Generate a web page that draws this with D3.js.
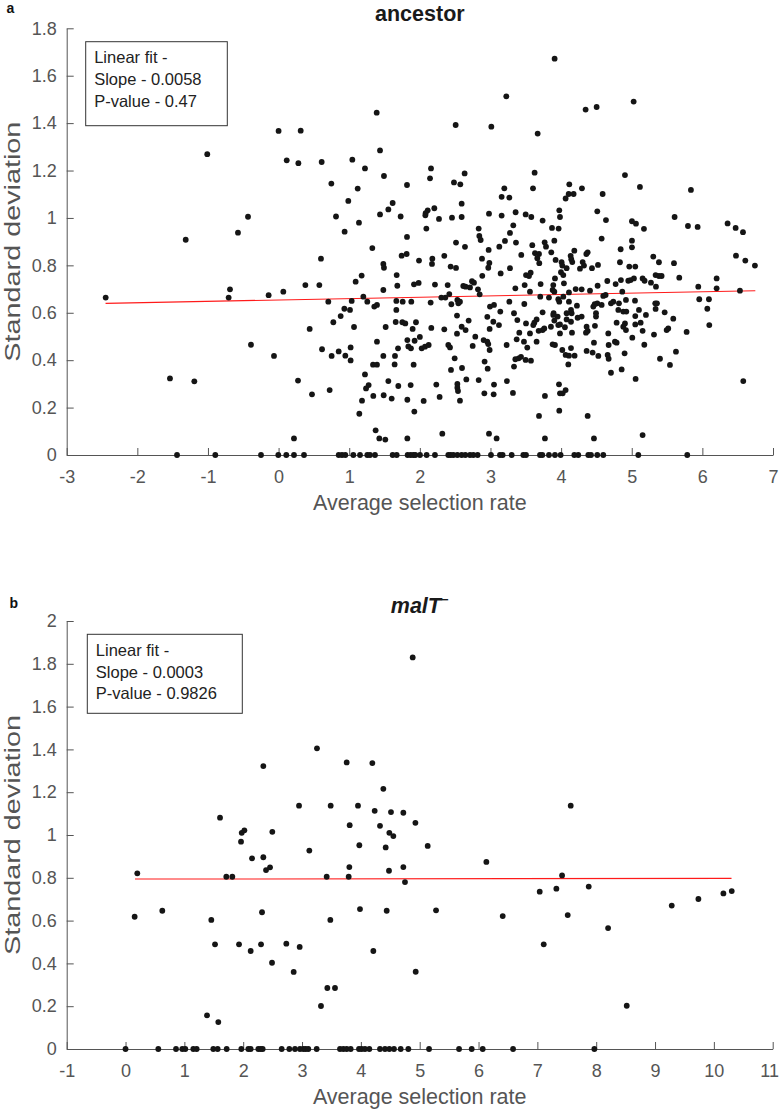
<!DOCTYPE html>
<html><head><meta charset="utf-8">
<script src="https://cdn.jsdelivr.net/npm/d3@7"></script>
<style>
body{margin:0;background:#fff}
svg{display:block}
text{font-family:Arial,"Liberation Sans",Helvetica,sans-serif}
</style>
</head><body>
<svg id="chart" width="780" height="1109"></svg>
<script>
// ---------------- DATA ----------------
const panelTitles = ["ancestor", "malT"];
const panelLetters = ["a", "b"];
const xLabel = "Average selection rate";
const yLabel = "Standard deviation";

const ancestorXTicks = [-3,-2,-1,0,1,2,3,4,5,6,7];
const ancestorYTicks = [0,0.2,0.4,0.6,0.8,1,1.2,1.4,1.6,1.8];
const maltXTicks = [-1,0,1,2,3,4,5,6,7,8,9,10,11];
const maltYTicks = [0,0.2,0.4,0.6,0.8,1,1.2,1.4,1.6,1.8,2];

const ancestorLegend = ["Linear fit -", "Slope - 0.0058", "P-value - 0.47"];
const maltLegend = ["Linear fit -", "Slope - 0.0003", "P-value - 0.9826"];

// linear fits: [xStart, xEnd, intercept, slope]
const ancestorFit = [-2.45, 6.75, 0.654, 0.0058];
const maltFit = [0.16, 10.3, 0.794, 0.0003];

// ancestor: points with non-zero SD [x, y]
const ancestorPoints = [
[-1.01,1.269],[0.00,1.367],[0.115,1.243],[-1.315,0.908],[-0.575,0.938],[-0.433,1.005],
[0.313,1.368],[0.280,1.231],[0.610,1.236],[1.389,1.444],[1.436,1.285],[1.044,1.246],[1.223,1.209],[1.492,1.177],[0.747,1.145],[1.120,1.124],[0.987,1.072],[0.813,1.006],[1.138,0.980],[0.935,0.942],[1.436,1.015],[1.554,1.036],[1.615,1.063],[1.728,1.006],[1.818,1.139],[1.818,0.920],[1.327,0.873],[0.600,0.828],[2.158,1.209],[2.144,1.167],[2.507,1.392],[3.012,1.385],[3.224,1.513],[2.634,1.188],[2.483,1.150],[2.573,1.142],[2.592,1.060],[2.592,1.004],[2.455,1.001],[2.205,1.041],[2.111,1.032],[2.082,1.020],[2.078,1.011],[2.271,0.996],[2.092,0.955],[2.512,0.896],[2.639,0.878],[1.742,0.841],[1.813,0.848],[1.988,0.820],[2.177,0.828],[2.172,0.806],[2.346,0.840],[1.483,0.806],[1.492,0.790],[2.436,0.795],[2.512,0.789],[3.196,1.125],[3.158,1.089],[3.267,1.086],[2.979,1.018],[3.158,1.010],[3.356,1.024],[3.323,0.969],[2.833,0.955],[2.842,0.924],[2.861,0.907],[3.276,0.937],[3.205,0.903],[3.125,0.879],[3.361,0.896],[2.974,0.865],[2.880,0.828],[2.984,0.810],[2.969,0.790],[3.276,0.788],
[3.908,1.672],[4.347,1.457],[4.503,1.468],[5.027,1.491],[3.668,1.356],[3.625,1.191],[3.602,1.125],[4.904,1.181],[4.116,1.142],[4.064,1.082],[4.107,1.101],[4.177,1.101],[4.295,1.125],[4.588,1.101],[5.116,1.131],[5.838,1.118],[3.498,1.015],[3.578,1.004],[3.738,0.989],[3.974,1.032],[3.984,1.004],[3.871,0.958],[3.965,0.955],[4.512,1.028],[4.635,0.991],[3.904,0.904],[3.767,0.897],[3.786,0.879],[3.592,0.885],[3.436,0.844],[3.630,0.851],[3.687,0.848],[3.663,0.830],[3.691,0.809],[3.861,0.855],[3.922,0.823],[4.007,0.813],[4.017,0.799],[4.135,0.840],[4.144,0.826],[4.187,0.862],[4.158,0.814],[4.357,0.848],[4.376,0.855],[4.305,0.814],[4.324,0.799],[4.267,0.786],[4.522,0.802],[4.574,0.913],[4.843,0.868],[4.833,0.813],[4.965,0.795],[5.050,0.795],[5.003,0.904],[5.003,0.876],[5.003,0.986],[5.060,0.976],[5.173,0.954],[5.607,1.004],[5.796,0.966],[5.933,0.962],[6.357,0.977],[6.471,0.958],[6.575,0.940],[6.476,0.841],[6.608,0.820],[6.744,0.799],[5.598,0.809],[5.305,0.837],[5.385,0.813],[4.078,0.788],[4.437,0.788],
[-2.448,0.664],[-1.538,0.323],[-1.193,0.311],[-0.707,0.664],[-0.688,0.699],[-0.391,0.465],[-0.141,0.674],[-0.065,0.418],[0.067,0.689],
[0.379,0.717],[0.577,0.717],[1.091,0.731],[1.176,0.757],[0.704,0.647],[1.035,0.650],[0.931,0.617],[1.011,0.612],[0.879,0.586],[0.775,0.560],[1.068,0.540],[0.440,0.532],[0.615,0.446],[0.751,0.418],[0.851,0.437],[0.945,0.419],[1.020,0.399],[1.020,0.454],[1.200,0.668],[1.256,0.647],[1.355,0.626],[1.393,0.633],[1.483,0.696],[1.672,0.759],[1.681,0.714],[1.667,0.650],[1.667,0.612],[1.757,0.647],[1.879,0.647],[1.917,0.720],[1.983,0.726],[1.658,0.561],[1.752,0.560],[1.794,0.555],[1.516,0.540],[1.945,0.560],[1.898,0.532],[1.393,0.478],[1.823,0.485],[1.926,0.482],[1.837,0.458],[1.874,0.450],[2.000,0.498],[2.026,0.450],[2.073,0.457],[2.125,0.464],[2.162,0.536],[2.153,0.643],[2.214,0.719],[2.394,0.717],[2.304,0.664],[2.361,0.664],[2.417,0.679],[2.446,0.636],[2.531,0.654],[2.545,0.640],[2.568,0.647],[2.615,0.713],[2.648,0.710],[2.710,0.707],[2.738,0.733],[2.766,0.727],[2.823,0.699],[2.847,0.678],[2.884,0.756],[3.144,0.766],[3.352,0.703],[3.267,0.647],[3.333,0.598],[3.380,0.569],[2.993,0.626],[3.050,0.633],[2.955,0.583],[3.040,0.562],[3.120,0.548],[3.139,0.605],[2.988,0.532],[2.903,0.485],[2.955,0.478],[2.969,0.468],[2.988,0.443],[2.917,0.394],[2.960,0.364],[2.833,0.316],[3.050,0.297],[2.913,0.260],[3.045,0.256],[3.233,0.312],[3.318,0.262],[3.333,0.373],[3.352,0.404],[3.399,0.408],[3.229,0.464],[3.371,0.488],[2.526,0.588],[2.592,0.541],[2.648,0.527],[2.691,0.567],[2.346,0.530],[2.403,0.464],[2.427,0.454],[2.526,0.512],[2.493,0.408],[2.441,0.359],[2.597,0.367],[2.785,0.499],[2.748,0.460],[2.658,0.319],[2.531,0.300],[2.531,0.284],[2.540,0.270],[2.568,0.229],[2.233,0.297],[2.280,0.245],[2.318,0.090],[2.054,0.228],[1.922,0.183],[1.870,0.295],[1.823,0.233],[1.695,0.291],[1.601,0.238],[1.554,0.312],[1.488,0.252],[1.341,0.249],[1.275,0.295],[1.238,0.281],[1.223,0.340],[1.181,0.229],[1.143,0.174],[1.337,0.381],[1.393,0.381],[1.483,0.418],[1.648,0.418],[1.643,0.382],[1.691,0.450],[1.912,0.381],[0.723,0.274],[0.473,0.256],[0.275,0.314],[0.218,0.070],[1.374,0.104],[1.426,0.070],[1.511,0.065],[1.823,0.070],[2.979,0.090],[3.087,0.070],
[3.503,0.759],[3.569,0.769],[3.545,0.755],[3.484,0.717],[3.559,0.689],[3.710,0.721],[3.705,0.668],[3.889,0.717],[3.913,0.745],[3.998,0.771],[4.031,0.759],[4.040,0.724],[3.880,0.696],[3.904,0.689],[3.828,0.664],[3.960,0.657],[3.974,0.647],[4.111,0.686],[4.206,0.700],[4.291,0.699],[4.409,0.693],[4.517,0.714],[4.654,0.734],[4.772,0.721],[4.847,0.738],[4.866,0.689],[4.951,0.735],[4.984,0.738],[5.031,0.745],[5.154,0.745],[5.182,0.735],[5.272,0.727],[5.338,0.759],[5.385,0.755],[5.423,0.755],[5.343,0.710],[5.673,0.748],[5.942,0.710],[6.202,0.745],[6.202,0.703],[5.956,0.657],[6.093,0.657],[6.070,0.617],[6.098,0.548],[6.532,0.693],[6.579,0.312],[5.777,0.519],[5.588,0.575],[5.466,0.602],[5.333,0.640],[5.357,0.640],[5.338,0.616],[5.201,0.591],[5.102,0.612],[5.046,0.651],[5.050,0.586],[5.126,0.558],[5.050,0.551],[5.154,0.524],[5.008,0.495],[5.178,0.465],[5.315,0.508],[5.494,0.527],[5.517,0.534],[5.626,0.436],[5.541,0.380],[5.400,0.406],[5.055,0.321],[5.154,0.084],[4.899,0.429],[4.857,0.361],[4.904,0.555],[4.918,0.527],[4.880,0.541],[4.810,0.612],[4.880,0.605],[4.923,0.605],[4.819,0.640],[4.918,0.654],[4.786,0.558],[4.739,0.647],[4.706,0.640],[4.668,0.513],[4.673,0.464],[4.659,0.422],[4.673,0.406],[4.762,0.478],[4.786,0.474],[4.706,0.347],[4.597,0.671],[4.630,0.675],[4.512,0.640],[4.574,0.633],[4.475,0.636],[4.456,0.626],[4.494,0.598],[4.494,0.584],[4.479,0.545],[4.465,0.474],[4.376,0.523],[4.352,0.516],[4.361,0.541],[4.446,0.432],[4.527,0.418],[4.361,0.439],[4.291,0.584],[4.234,0.579],[4.224,0.630],[4.140,0.612],[4.149,0.598],[4.078,0.572],[4.140,0.562],[4.078,0.598],[4.154,0.516],[4.054,0.539],[3.984,0.551],[3.960,0.548],[3.984,0.513],[4.017,0.443],[4.064,0.422],[4.111,0.419],[4.191,0.419],[4.140,0.451],[4.102,0.382],[3.880,0.467],[3.913,0.464],[3.951,0.584],[3.889,0.591],[3.894,0.598],[3.904,0.567],[3.856,0.541],[3.762,0.534],[3.738,0.527],[3.738,0.602],[3.653,0.572],[3.621,0.558],[3.606,0.548],[3.682,0.524],[3.503,0.555],[3.559,0.513],[3.653,0.478],[3.408,0.516],[3.474,0.478],[3.521,0.453],[3.432,0.414],[3.498,0.401],[3.573,0.398],[3.970,0.298],[3.984,0.260],[4.022,0.260],[4.064,0.274],[3.771,0.249],[3.974,0.187],[3.687,0.165],[3.771,0.070],[4.376,0.165],[4.465,0.070],[3.479,0.637],[4.031,0.668],[4.111,0.647]
];
// ancestor: x positions of points with SD = 0
const ancestorZeroX = [-1.438,-0.896,-0.249,-0.004,0.109,0.218,0.360,0.851,0.898,0.945,1.058,1.153,1.256,1.294,1.365,1.615,1.672,1.827,1.870,1.908,1.936,2.002,2.096,2.214,2.403,2.436,2.474,2.531,2.592,2.644,2.710,2.757,2.818,3.007,3.134,3.172,3.300,3.465,3.503,3.701,3.734,3.828,3.913,3.993,4.187,4.243,4.385,4.423,4.512,4.597,5.093,5.786];

// malT-: points with non-zero SD [x, y]
const maltPoints = [
[3.254,1.405],[2.342,1.322],[3.759,1.339],[4.195,1.336],[4.382,1.216],[4.881,1.830],[1.606,1.081],[2.949,1.137],[3.487,1.137],[3.951,1.137],[4.235,1.113],[4.512,1.107],[4.722,1.104],[3.810,1.046],[4.325,1.043],[2.495,1.015],[4.484,1.010],[4.552,0.995],[7.567,1.137],[4.927,1.057],
[1.963,0.969],[1.975,1.010],[2.020,1.022],[2.150,0.891],[2.342,0.896],[2.388,0.836],[2.456,0.849],[1.713,0.805],[1.815,0.805],[0.200,0.821],[0.155,0.618],[0.625,0.646],[1.458,0.603],[1.521,0.489],[1.929,0.489],[2.127,0.458],[2.320,0.639],[2.303,0.489],[2.490,0.403],[2.733,0.492],[2.960,0.477],[2.858,0.360],[3.124,0.927],[3.419,0.805],[3.481,0.603],[3.430,0.285],[3.560,0.285],[3.322,0.201],[1.385,0.157],[1.577,0.126],[3.793,0.805],[3.804,0.850],[3.974,0.952],[3.985,0.654],[4.212,0.458],[4.422,0.942],[4.439,0.646],[4.478,0.833],[4.722,0.850],[4.750,0.780],
[5.136,0.949],[4.932,0.361],[5.278,0.648],[6.133,0.874],[6.411,0.621],[7.040,0.735],[7.108,0.489],[7.323,0.749],[7.420,0.811],[7.516,0.626],[7.873,0.759],[8.202,0.565],[8.519,0.202],[9.284,0.670],[9.737,0.701],[10.162,0.727],[10.304,0.738]
];
// malT-: x positions of points with SD = 0
const maltZeroX = [0.0,0.557,0.858,0.965,1.016,1.152,1.209,1.492,1.566,1.719,1.968,2.087,2.127,2.257,2.297,2.331,2.654,2.784,2.880,2.965,3.022,3.062,3.107,3.249,3.645,3.702,3.759,3.827,3.968,4.014,4.070,4.144,4.325,4.410,4.484,4.563,4.677,4.807,5.159,5.669,5.884,6.071,6.587,7.969];

// ---------------- DRAWING ----------------
const svg = d3.select("#chart");
const AXC = "#555555";
const FONT = 'Arial, "Liberation Sans", Helvetica, sans-serif';
const W = 780;

function drawPanel(o) {
  const x = d3.scaleLinear().domain(o.xDomain).range([o.left, o.right]);
  const y = d3.scaleLinear().domain(o.yDomain).range([o.bottom, o.top]);
  const g = svg.append("g");

  // x axis
  const xa = g.append("g").attr("transform", `translate(0,${o.bottom})`)
    .call(d3.axisBottom(x).tickValues(o.xTicks).tickSize(-7).tickSizeOuter(0).tickPadding(15)
      .tickFormat(d => String(d)));
  // y axis
  const ya = g.append("g").attr("transform", `translate(${o.left},0)`)
    .call(d3.axisLeft(y).tickValues(o.yTicks).tickSize(-7).tickSizeOuter(0).tickPadding(10)
      .tickFormat(d => String(+d.toFixed(1))));
  [xa, ya].forEach(a => {
    a.selectAll("path, line").attr("stroke", AXC).attr("stroke-width", 1);
    a.selectAll("text").attr("fill", AXC).attr("font-size", 18).attr("font-family", FONT);
  });
  // keep the last x tick label inside the page
  xa.selectAll(".tick text").each(function() {
    const bb = this.getBBox();
    const tr = this.parentNode.transform.baseVal.consolidate();
    const tx = tr ? tr.matrix.e : 0;
    const overflow = tx + bb.x + bb.width - (W - 1);
    if (overflow > 0) d3.select(this).attr("x", -overflow);
  });

  // fit line
  const f = o.fit;
  g.append("line")
    .attr("x1", x(f[0])).attr("y1", y(f[2] + f[3] * f[0]))
    .attr("x2", x(f[1])).attr("y2", y(f[2] + f[3] * f[1]))
    .attr("stroke", "#ff1a1a").attr("stroke-width", 1.1);

  // points
  const all = o.points.concat(o.zeros.map(v => [v, 0]));
  g.append("g").selectAll("circle").data(all).join("circle")
    .attr("cx", d => x(d[0])).attr("cy", d => y(d[1])).attr("r", 2.9)
    .attr("fill", "#151515");

  // legend box
  g.append("rect").attr("x", o.legend.x).attr("y", o.legend.y)
    .attr("width", o.legend.w).attr("height", o.legend.h)
    .attr("fill", "#fff").attr("stroke", "#333").attr("stroke-width", 1);
  o.legendText.forEach((t, i) => {
    g.append("text").attr("x", o.legend.x + 8.5).attr("y", o.legend.y + 21.5 + i * 21.7)
      .attr("font-size", 16.5).attr("fill", "#222").text(t);
  });

  // axis labels
  g.append("text").attr("x", (o.left + o.right) / 2).attr("y", o.bottom + 55)
    .attr("text-anchor", "middle").attr("font-size", 21.5).attr("fill", AXC).text(xLabel);
  g.append("text")
    .attr("transform", `translate(20,${(o.top + o.bottom) / 2}) rotate(-90)`)
    .attr("text-anchor", "middle").attr("font-size", 21.5).attr("fill", AXC)
    .attr("textLength", 240).attr("lengthAdjust", "spacingAndGlyphs").text(yLabel);

  // title
  const tt = g.append("text").attr("x", (o.left + o.right) / 2).attr("y", o.titleY)
    .attr("text-anchor", "middle").attr("font-size", 21.5).attr("font-weight", "bold")
    .attr("fill", "#1a1a1a");
  tt.append("tspan").attr("font-style", o.italic ? "italic" : "normal").text(o.title);
  if (o.sup) tt.append("tspan").attr("font-size", 13).attr("dy", -9).attr("font-weight", "bold").text(o.sup);

  // panel letter
  g.append("text").attr("x", o.letterX).attr("y", o.letterY).attr("font-size", 14)
    .attr("font-weight", "bold").attr("fill", "#111").text(o.letter);
}

drawPanel({
  xDomain: [-3, 7], yDomain: [0, 1.8], left: 66.7, right: 773, bottom: 455, top: 28.3,
  xTicks: ancestorXTicks, yTicks: ancestorYTicks, fit: ancestorFit,
  points: ancestorPoints, zeros: ancestorZeroX,
  legend: {x: 85.7, y: 41.7, w: 141.6, h: 84}, legendText: ancestorLegend,
  title: panelTitles[0], italic: false, sup: null, titleY: 20.7,
  letter: panelLetters[0], letterX: 6.5, letterY: 13
});

drawPanel({
  xDomain: [-1, 11], yDomain: [0, 2], left: 66.7, right: 772.7, bottom: 1049, top: 621,
  xTicks: maltXTicks, yTicks: maltYTicks, fit: maltFit,
  points: maltPoints, zeros: maltZeroX,
  legend: {x: 87.3, y: 634.3, w: 155, h: 79}, legendText: maltLegend,
  title: panelTitles[1], italic: true, sup: "\u2212", titleY: 613.3,
  letter: panelLetters[1], letterX: 9.5, letterY: 608
});
</script>
</body></html>
